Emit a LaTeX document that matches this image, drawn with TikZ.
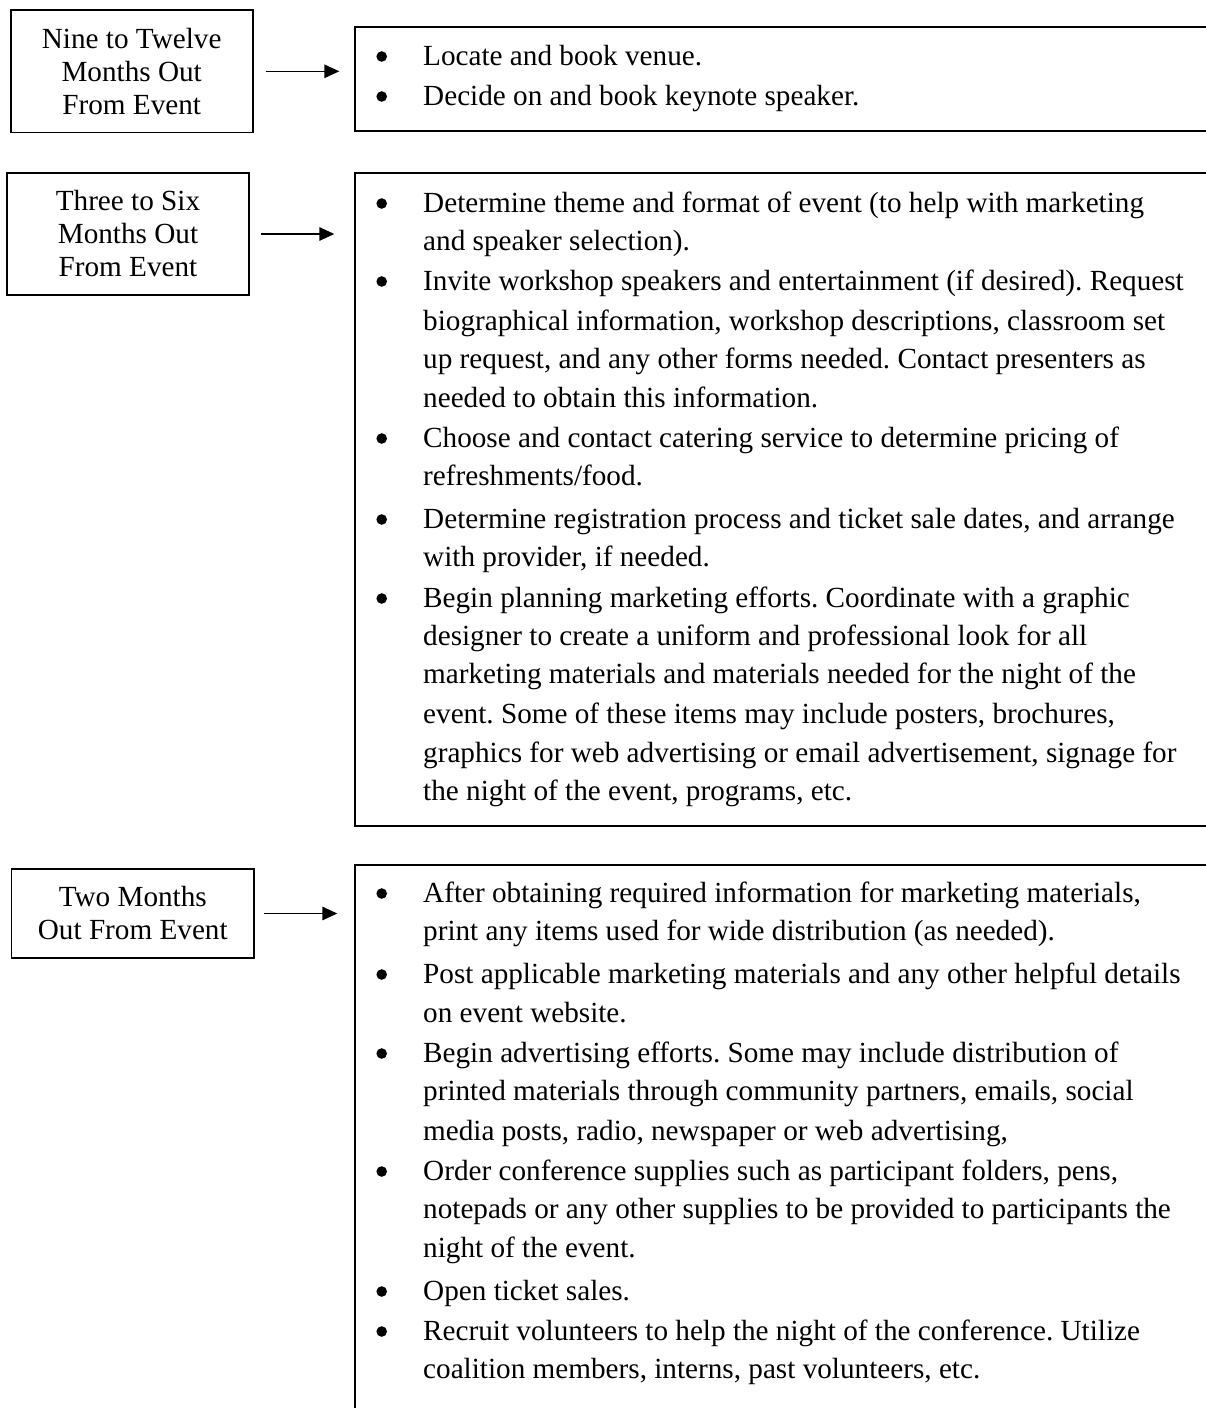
\documentclass[tikz,border=0pt]{standalone}
\usepackage{fontspec}
\setmainfont{Liberation Serif}
\usetikzlibrary{arrows.meta}
\frenchspacing
\begin{document}
\begin{tikzpicture}[x=1pt,y=-1pt,
  lbox/.style={draw, line width=1.6pt, align=center, inner sep=0pt, font=\frenchspacing\fontsize{29.2}{33}\selectfont},
  rbox/.style={draw, line width=1.6pt, inner sep=0pt, anchor=north west},
  txt/.style={anchor=base west, inner sep=0pt, font=\frenchspacing\fontsize{29.2}{33}\selectfont},
  conn/.style={line width=1.4pt, -{Triangle[length=15pt,width=13.5pt]}},
  bul/.style={fill=black}]
\fill[white] (0,0) rectangle (1206,1408);
\useasboundingbox (0,0) rectangle (1206,1408);

% left boxes
\node[lbox, minimum width=242pt, minimum height=122.7pt] (L1) at (131.7,71.3) {Nine to Twelve\\Months Out\\From Event};
\node[lbox, minimum width=242pt, minimum height=122pt] (L2) at (128,234) {Three to Six\\Months Out\\From Event};
\node[lbox, minimum width=242.3pt, minimum height=89pt] (L3) at (132.8,913.5) {Two Months\\Out From Event};

% right boxes
\node[rbox, minimum width=870pt, minimum height=104pt] (R1) at (354.3,26) {};
\node[rbox, minimum width=870pt, minimum height=653pt] (R2) at (354.3,172) {};
\node[rbox, minimum width=870pt, minimum height=560pt] (R3) at (354.3,864) {};

% connectors
\draw[conn, shorten <=12pt, shorten >=15pt] (L1.east) -- (L1.east -| R1.west);
\draw[conn, shorten <=11pt, shorten >=20pt] (L2.east) -- (L2.east -| R2.west);
\draw[conn, shorten <=9pt, shorten >=17pt] (L3.east) -- (L3.east -| R3.west);

% text lines
\foreach \y/\t in {
  65/{Locate and book venue.},
  105/{Decide on and book keynote speaker.},
  212/{Determine theme and format of event (to help with marketing},
  250/{and speaker selection).},
  290/{Invite workshop speakers and entertainment (if desired). Request},
  330/{biographical information, workshop descriptions, classroom set},
  368/{up request, and any other forms needed. Contact presenters as},
  407/{needed to obtain this information.},
  447/{Choose and contact catering service to determine pricing of},
  485/{refreshments/food.},
  528/{Determine registration process and ticket sale dates, and arrange},
  566/{with provider, if needed.},
  607/{Begin planning marketing efforts. Coordinate with a graphic},
  645/{designer to create a uniform and professional look for all},
  683/{marketing materials and materials needed for the night of the},
  723/{event. Some of these items may include posters, brochures,},
  762/{graphics for web advertising or email advertisement, signage for},
  800/{the night of the event, programs, etc.},
  902/{After obtaining required information for marketing materials,},
  940/{print any items used for wide distribution (as needed).},
  983/{Post applicable marketing materials and any other helpful details},
  1022/{on event website.},
  1062/{Begin advertising efforts. Some may include distribution of},
  1100/{printed materials through community partners, emails, social},
  1140/{media posts, radio, newspaper or web advertising,},
  1180/{Order conference supplies such as participant folders, pens,},
  1218/{notepads or any other supplies to be provided to participants the},
  1257/{night of the event.},
  1300/{Open ticket sales.},
  1340/{Recruit volunteers to help the night of the conference. Utilize},
  1378/{coalition members, interns, past volunteers, etc.}}
  \node[txt] (t\y) at (423,\y) {\t};

% bullets
\foreach \y in {65,105,212,290,447,528,607,902,983,1062,1180,1300,1340}
  \fill[bul] (381.7,\y-8.5) circle (5.3);
\end{tikzpicture}
\end{document}
